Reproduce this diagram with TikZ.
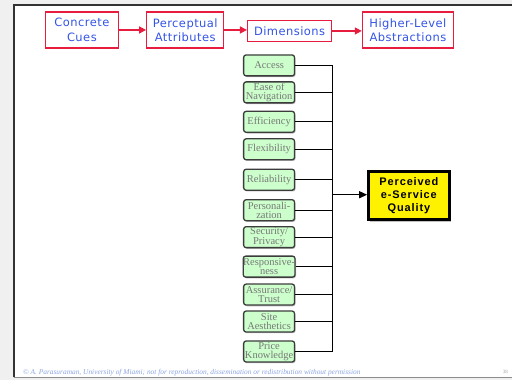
\documentclass[tikz,border=0pt]{standalone}
\usepackage{fontspec}
\setmainfont{Liberation Serif}
\newfontfamily\boxsans[LetterSpace=4]{DejaVu Sans}
\newfontfamily\boldsans[LetterSpace=8]{Liberation Sans}
\usetikzlibrary{arrows.meta,shadows}
\definecolor{stagered}{RGB}{232,28,62}
\definecolor{stageblue}{RGB}{52,84,230}
\definecolor{dimgreen}{RGB}{204,255,204}
\definecolor{dimborder}{RGB}{60,60,60}
\definecolor{dimtext}{RGB}{120,120,120}
\definecolor{footblue}{RGB}{140,165,225}
\definecolor{pagegray}{RGB}{240,240,240}
\tikzset{
  stage/.style={draw=stagered, line width=1.4pt, fill=white, align=center,
    text=stageblue, font=\boxsans\fontsize{11.5}{14.5}\selectfont, inner sep=0pt,
    minimum height=36pt},
  stagearrow/.style={draw=stagered, line width=1.4pt, -{Triangle[length=7pt,width=7pt]}},
  dim/.style={draw=dimborder, line width=1.3pt, fill=dimgreen, rounded corners=2.5pt,
    minimum width=51pt, minimum height=21pt, inner sep=0pt, align=center,
    text=dimtext, font=\fontsize{10.5}{9.5}\selectfont,
    drop shadow={shadow xshift=1pt, shadow yshift=-1.2pt, fill=black!45, opacity=0.6}},
  bus/.style={draw=black, line width=1.2pt},
  outcome/.style={draw=black, line width=2.6pt, fill=yellow, minimum width=81pt,
    minimum height=48pt, inner sep=0pt, align=center,
    font=\boldsans\bfseries\fontsize{11}{13}\selectfont,
    drop shadow={shadow xshift=2pt, shadow yshift=-2pt, fill=black!40, opacity=0.6}}
}
\begin{document}
\begin{tikzpicture}[x=1pt,y=-1pt]
  % page area and slide frame
  \fill[pagegray] (0,0) rectangle (513,381);
  \fill[white] (14,5) rectangle (513,378);
  \draw[black!80, line width=1.5pt] (14,378) -- (14,5) -- (513,5);
  \draw[black!45, line width=1pt] (14,378) -- (513,378);
  \useasboundingbox (0,0) rectangle (513,381);

  % chain of stages along the top
  \node[stage, minimum width=73pt] (cues) at (82,30) {Concrete\\Cues};
  \node[stage, minimum width=77pt] (attr) at (185.5,30) {Perceptual\\Attributes};
  \node[stage, minimum width=84pt, minimum height=21pt] (dims) at (290,31) {Dimensions};
  \node[stage, minimum width=91pt] (abst) at (408.5,30) {Higher-Level\\Abstractions};
  \draw[stagearrow] (cues.east) -- (cues.east -| attr.west);
  \draw[stagearrow] (attr.east) -- (attr.east -| dims.west);
  \draw[stagearrow] (dims.east) -- (dims.east -| abst.west);

  % dimensions of service quality
  \node[dim] (d1)  at (269.5,65.5)  {Access};
  \node[dim] (d2)  at (269.5,92.5)  {Ease of\\Navigation};
  \node[dim] (d3)  at (269.5,122)   {Efficiency};
  \node[dim] (d4)  at (269.5,149.5) {Flexibility};
  \node[dim] (d5)  at (269.5,180)   {Reliability};
  \node[dim] (d6)  at (269.5,210.5) {Personali-\\zation};
  \node[dim] (d7)  at (269.5,237.5) {Security/\\Privacy};
  \node[dim] (d8)  at (269.5,267)   {Responsive-\\ness};
  \node[dim] (d9)  at (269.5,295)   {Assurance/\\Trust};
  \node[dim] (d10) at (269.5,322)   {Site\\Aesthetics};
  \node[dim] (d11) at (269.5,352)   {Price\\Knowledge};

  % collecting bus and the outcome box
  \coordinate (bustop) at (333,65.5);
  \coordinate (busbot) at (333,352);
  \coordinate (busmid) at (333,195);
  \node[outcome] (pq) at (409.5,196) {Perceived\\e-Service\\Quality};

  \foreach \d in {d1,d2,d3,d4,d5,d6,d7,d8,d9,d10,d11}
    \draw[bus] (\d.east) -- (\d.east -| bustop);
  \draw[bus] (bustop) -- (busbot);
  \draw[bus, -{Triangle[length=8pt,width=7pt]}] (busmid) -- (busmid -| pq.west);

  % footer
  \node[anchor=west, text=footblue, font=\itshape\fontsize{7.4}{8}\selectfont, inner sep=0pt]
    (foot) at (23,373) {\copyright\ A. Parasuraman, University of Miami; not for reproduction, dissemination or redistribution without permission};
  \node[text=black!35, font=\fontsize{5}{6}\selectfont, inner sep=0pt] (pagenum) at (506,372) {38};
\end{tikzpicture}
\end{document}
